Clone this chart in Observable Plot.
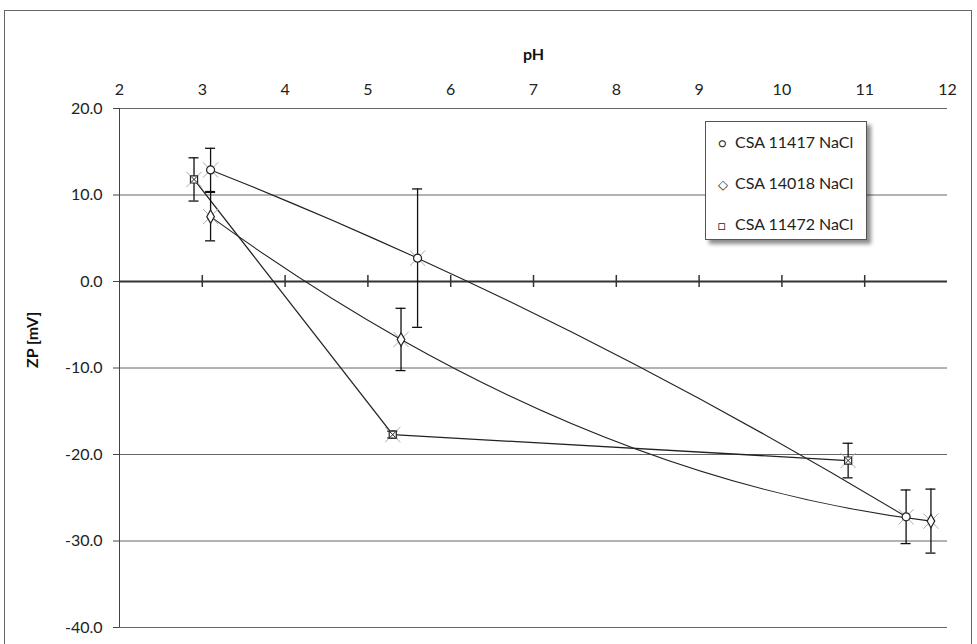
<!DOCTYPE html>
<html><head><meta charset="utf-8">
<script src="https://cdn.jsdelivr.net/npm/d3@7"></script>
<script src="https://cdn.jsdelivr.net/npm/@observablehq/plot@0.6"></script>
<style>
body{margin:0;background:#fff;font-family:Lato,"Open Sans",sans-serif;}
#wrap{position:relative;width:977px;height:644px;overflow:hidden;}
#frame{position:absolute;left:4px;top:10px;width:968px;height:660px;border:1px solid #666;box-sizing:border-box;}
#legend{position:absolute;left:705px;top:121px;width:162px;height:119px;border:1px solid #555;background:#fff;box-shadow:4px 4px 4px rgba(0,0,0,0.45);box-sizing:border-box;font-size:16px;color:#222;}
#legend div{position:absolute;left:12px;white-space:nowrap;}
#legend span{display:inline-block;width:17px;font-size:13px;}
#plot{position:absolute;left:0;top:0;}
</style></head>
<body><div id="wrap"><div id="frame"></div><div id="plot"></div><div id="legend"></div></div>
<script>
const seriesNames = ["CSA 11417 NaCl", "CSA 14018 NaCl", "CSA 11472 NaCl"];
const seriesSymbols = ["circle", "diamond", "square"];
const legendGlyphs = ["○", "◇", "□"];
const ph11417 = [3.1, 5.6, 11.5];
const zp11417 = [12.9, 2.7, -27.2];
const err11417 = [2.5, 8.0, 3.1];
const ph14018 = [3.1, 5.4, 11.8];
const zp14018 = [7.5, -6.7, -27.7];
const err14018 = [2.8, 3.6, 3.7];
const ph11472 = [2.9, 5.3, 10.8];
const zp11472 = [11.8, -17.7, -20.7];
const err11472 = [2.5, 0.4, 2.0];
const xTicks = [2, 3, 4, 5, 6, 7, 8, 9, 10, 11, 12];
const yTicks = [20, 10, 0, -10, -20, -30, -40];

const phs = [ph11417, ph14018, ph11472];
const zps = [zp11417, zp14018, zp11472];
const errs = [err11417, err14018, err11472];
const data = [];
seriesNames.forEach((s, k) => phs[k].forEach((p, i) => data.push({series: s, symbol: seriesSymbols[k], ph: p, zp: zps[k][i], err: errs[k][i]})));
const s1 = data.filter(d => d.series === seriesNames[0]);
const s2 = data.filter(d => d.series === seriesNames[1]);
const s3 = data.filter(d => d.series === seriesNames[2]);
const fmt = d => d.toFixed(1);

// smooth curve: parabola through each three consecutive points (drawn as quadratic Béziers)
function curveParabola(context) {
  let pts = [];
  return {
    areaStart() {}, areaEnd() {},
    lineStart() { pts = []; },
    point(x, y) { pts.push([+x, +y]); },
    lineEnd() {
      if (!pts.length) return;
      context.moveTo(pts[0][0], pts[0][1]);
      if (pts.length < 3) { pts.slice(1).forEach(p => context.lineTo(p[0], p[1])); return; }
      for (let i = 0; i < pts.length - 1; i++) {
        const j = Math.min(Math.max(i - 1, 0), pts.length - 3);
        const [a, b, c] = [pts[j], pts[j + 1], pts[j + 2]];
        const s01 = (b[1] - a[1]) / (b[0] - a[0]);
        const s12 = (c[1] - b[1]) / (c[0] - b[0]);
        const k = (s12 - s01) / (c[0] - a[0]);
        const p = pts[i], q = pts[i + 1];
        const slope = s01 + k * ((p[0] - a[0]) + (p[0] - b[0]));
        const h = q[0] - p[0];
        context.quadraticCurveTo(p[0] + h / 2, p[1] + slope * h / 2, q[0], q[1]);
      }
    }
  };
}

const chart = Plot.plot({
  width: 977, height: 644,
  marginLeft: 119, marginRight: 30, marginTop: 108, marginBottom: 17,
  style: {fontFamily: "Lato, 'Open Sans', sans-serif", fontSize: "16px", color: "#222", background: "transparent", overflow: "visible"},
  x: {domain: [2, 12], ticks: xTicks},
  y: {domain: [-40, 20], ticks: yTicks},
  marks: [
    Plot.ruleY(yTicks.filter(d => d !== 0), {stroke: "#666", strokeWidth: 1}),
    Plot.ruleX([2], {y1: -40, y2: 20, stroke: "#444", strokeWidth: 1}),
    Plot.ruleY([0], {stroke: "#333", strokeWidth: 2}),
    Plot.ruleX(xTicks.slice(1, -1), {x: d => d, y1: 0, y2: 0, insetTop: -6, insetBottom: -6, stroke: "#333", strokeWidth: 1.5}),
    Plot.axisX({anchor: "top", ticks: xTicks, tickSize: 0, tickPadding: 14, fontSize: 16, label: null}),
    Plot.axisY({anchor: "left", ticks: yTicks, tickSize: 6, tickPadding: 11, tickFormat: fmt, stroke: "#444", fontSize: 16, label: null}),
    Plot.text(["pH"], {frameAnchor: "top", dy: -60, fontSize: 16, fontWeight: "bold", fill: "#111"}),
    Plot.text(["ZP [mV]"], {frameAnchor: "left", dx: -87, rotate: -90, fontSize: 16, fontWeight: "bold", fill: "#111"}),
    Plot.line(s1, {x: "ph", y: "zp", curve: curveParabola, stroke: "#222", strokeWidth: 1.1}),
    Plot.line(s2, {x: "ph", y: "zp", curve: curveParabola, stroke: "#222", strokeWidth: 1.1}),
    Plot.line(s3, {x: "ph", y: "zp", curve: "linear", stroke: "#222", strokeWidth: 1.3}),
    Plot.ruleX(data, {x: "ph", y1: d => d.zp - d.err, y2: d => d.zp + d.err, stroke: "#111", strokeWidth: 1.3}),
    Plot.ruleY(data, {y: d => d.zp + d.err, x1: "ph", x2: "ph", insetLeft: -5, insetRight: -5, stroke: "#111", strokeWidth: 1.3}),
    Plot.ruleY(data, {y: d => d.zp - d.err, x1: "ph", x2: "ph", insetLeft: -5, insetRight: -5, stroke: "#111", strokeWidth: 1.3}),
    Plot.dot(data, {x: "ph", y: "zp", symbol: "times", r: 7, stroke: "#aaa", strokeWidth: 1}),
    Plot.dot(data, {x: "ph", y: "zp", symbol: d => d.symbol, r: 4, stroke: "#222", fill: "#fff", strokeWidth: 1.2}),
    Plot.dot(s3, {x: "ph", y: "zp", symbol: "times", r: 2.5, stroke: "#222", strokeWidth: 1})
  ]
});
document.getElementById("plot").appendChild(chart);

const leg = document.getElementById("legend");
seriesNames.forEach((s, k) => {
  const row = document.createElement("div");
  row.style.top = (10 + k * 41) + "px";
  row.innerHTML = `<span>${legendGlyphs[k]}</span>${s}`;
  leg.appendChild(row);
});
</script></body></html>
